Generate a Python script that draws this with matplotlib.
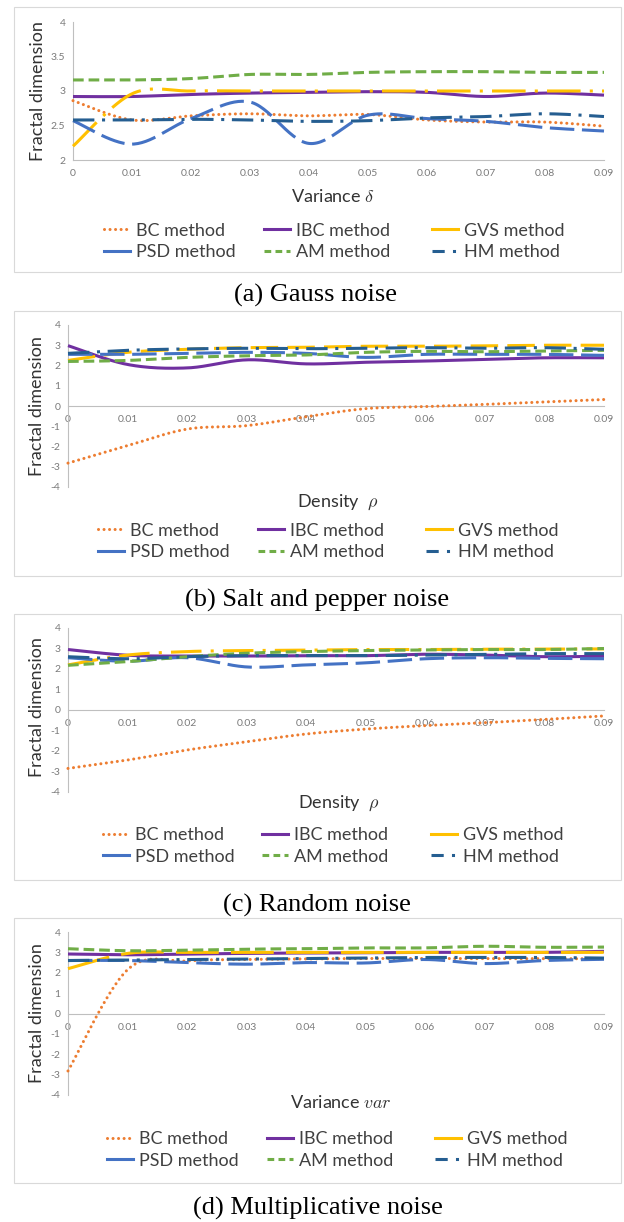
import numpy as np
import matplotlib
matplotlib.use("Agg")
import matplotlib.pyplot as plt
from matplotlib.lines import Line2D
from matplotlib.patches import Rectangle

# ---------------- data ----------------
x_vals = [0, 0.01, 0.02, 0.03, 0.04, 0.05, 0.06, 0.07, 0.08, 0.09]
x_tick_labels = ["0", "0.01", "0.02", "0.03", "0.04", "0.05", "0.06", "0.07", "0.08", "0.09"]
method_names = ["BC method", "IBC method", "GVS method", "PSD method", "AM method", "HM method"]

# (a) Gauss noise
gauss_bc = [2.86, 2.58, 2.64, 2.67, 2.64, 2.66, 2.58, 2.55, 2.55, 2.49]
gauss_ibc = [2.92, 2.92, 2.95, 2.97, 2.98, 2.99, 2.98, 2.92, 2.97, 2.94]
gauss_gvs = [2.20, 2.96, 3.00, 3.00, 3.00, 3.00, 3.00, 3.00, 3.00, 3.00]
gauss_psd = [2.57, 2.23, 2.60, 2.84, 2.24, 2.65, 2.60, 2.56, 2.47, 2.42]
gauss_am = [3.16, 3.16, 3.18, 3.24, 3.24, 3.27, 3.28, 3.28, 3.27, 3.27]
gauss_hm = [2.58, 2.58, 2.59, 2.58, 2.56, 2.57, 2.61, 2.63, 2.67, 2.63]

# (b) Salt and pepper noise
sp_bc = [-2.82, -1.96, -1.14, -0.97, -0.53, -0.13, -0.03, 0.08, 0.20, 0.32]
sp_ibc = [2.98, 2.05, 1.88, 2.28, 2.08, 2.16, 2.22, 2.30, 2.38, 2.38]
sp_gvs = [2.25, 2.65, 2.80, 2.88, 2.90, 2.95, 2.95, 2.97, 3.00, 3.00]
sp_psd = [2.55, 2.55, 2.60, 2.65, 2.60, 2.40, 2.55, 2.55, 2.55, 2.50]
sp_am = [2.20, 2.25, 2.40, 2.48, 2.52, 2.65, 2.70, 2.68, 2.72, 2.75]
sp_hm = [2.60, 2.75, 2.82, 2.85, 2.83, 2.85, 2.88, 2.85, 2.88, 2.80]

# (c) Random noise
rn_bc = [-2.85, -2.44, -1.95, -1.55, -1.17, -0.93, -0.76, -0.62, -0.46, -0.29]
rn_ibc = [2.95, 2.67, 2.63, 2.63, 2.65, 2.65, 2.72, 2.68, 2.60, 2.62]
rn_gvs = [2.20, 2.68, 2.85, 2.90, 2.92, 2.95, 2.95, 2.97, 2.97, 2.98]
rn_psd = [2.55, 2.38, 2.55, 2.10, 2.20, 2.30, 2.50, 2.55, 2.52, 2.50]
rn_am = [2.18, 2.36, 2.60, 2.77, 2.85, 2.90, 2.93, 2.95, 2.95, 3.00]
rn_hm = [2.60, 2.50, 2.60, 2.65, 2.65, 2.65, 2.68, 2.72, 2.75, 2.75]

# (d) Multiplicative noise
mu_bc = [-2.82, 2.15, 2.58, 2.65, 2.68, 2.70, 2.70, 2.70, 2.70, 2.68]
mu_ibc = [2.92, 2.88, 2.92, 2.95, 2.97, 2.98, 3.00, 3.00, 3.00, 3.05]
mu_gvs = [2.20, 2.95, 3.00, 3.00, 3.00, 3.00, 3.00, 3.00, 3.00, 3.00]
mu_psd = [2.60, 2.60, 2.50, 2.42, 2.50, 2.48, 2.65, 2.45, 2.60, 2.66]
mu_am = [3.18, 3.08, 3.11, 3.16, 3.18, 3.22, 3.22, 3.30, 3.25, 3.26]
mu_hm = [2.60, 2.62, 2.65, 2.67, 2.70, 2.72, 2.75, 2.75, 2.75, 2.72]

captions = ["(a) Gauss noise", "(b) Salt and pepper noise", "(c) Random noise", "(d) Multiplicative noise"]
x_titles = ["Variance $\\delta$", "Density  $\\rho$", "Density  $\\rho$", "Variance $var$"]
y_title = "Fractal dimension"

# ---------------- style ----------------
plt.rcParams["font.family"] = ["Lato", "DejaVu Sans"]
plt.rcParams["mathtext.fontset"] = "cm"

W, H = 624, 1222
fig = plt.figure(figsize=(W / 100, H / 100), dpi=100)

colors = ["#ED7D31", "#7030A0", "#FFC000", "#4472C4", "#70AD47", "#255E91"]
LW = 2.2
base_ls = [(0, (0.01, 1.8)), "-", None, (0, (8, 2.5)), (0, (3.5, 1.6)), (0, (7, 2.5, 1, 2.5))]
gvs_ls = [(0, (11, 3, 1, 3)), (0, (9, 3)), (0, (10, 3, 1, 3)), (0, (14, 4))]
legend_ls = [(0, (0.01, 1.8)), "-", "-", "-", (0, (2.2, 1.4)), (0, (4, 2.7, 1, 2.7))]


def smooth(xv, yv, n=30):
    xv = np.asarray(xv, float)
    yv = np.asarray(yv, float)
    m = len(xv)
    t = np.linspace(0, 1, n, endpoint=False)
    xs, ys = [], []
    for i in range(m - 1):
        i0, i3 = max(i - 1, 0), min(i + 2, m - 1)
        p0 = np.array([xv[i0], yv[i0]])
        p1 = np.array([xv[i], yv[i]])
        p2 = np.array([xv[i + 1], yv[i + 1]])
        p3 = np.array([xv[i3], yv[i3]])
        c1 = p1 + (p2 - p0) / 6.0
        c2 = p2 - (p3 - p1) / 6.0
        b = ((1 - t) ** 3)[:, None] * p1 + (3 * (1 - t) ** 2 * t)[:, None] * c1 \
            + (3 * (1 - t) * t ** 2)[:, None] * c2 + (t ** 3)[:, None] * p2
        xs.extend(b[:, 0])
        ys.extend(b[:, 1])
    xs.append(xv[-1])
    ys.append(yv[-1])
    return np.array(xs), np.array(ys)


panels = [
    dict(series=[gauss_bc, gauss_ibc, gauss_gvs, gauss_psd, gauss_am, gauss_hm],
         ax_px=(73, 22, 604, 160), ylim=(2, 4), yticks=[2, 2.5, 3, 3.5, 4],
         yticklabels=["2", "2.5", "3", "3.5", "4"], zero=False,
         xt_pos=(333, 197), yt_pos=(38, 91), leg_x=[104, 264, 432], leg_y=241.5,
         box=(14, 7, 621, 272), cap_pos=(316, 295)),
    dict(series=[sp_bc, sp_ibc, sp_gvs, sp_psd, sp_am, sp_hm],
         ax_px=(68, 325, 604, 487), ylim=(-4, 4), yticks=list(range(-4, 5)),
         yticklabels=[str(v) for v in range(-4, 5)], zero=True,
         xt_pos=(338, 502), yt_pos=(37, 406), leg_x=[98, 258, 426], leg_y=541.5,
         box=(14, 311, 621, 576), cap_pos=(317, 600)),
    dict(series=[rn_bc, rn_ibc, rn_gvs, rn_psd, rn_am, rn_hm],
         ax_px=(68, 628, 604, 792), ylim=(-4, 4), yticks=list(range(-4, 5)),
         yticklabels=[str(v) for v in range(-4, 5)], zero=True,
         xt_pos=(339, 803), yt_pos=(37, 707), leg_x=[103, 262, 431], leg_y=846,
         box=(14, 614, 621, 880), cap_pos=(317, 905)),
    dict(series=[mu_bc, mu_ibc, mu_gvs, mu_psd, mu_am, mu_hm],
         ax_px=(68, 932, 604, 1095), ylim=(-4, 4), yticks=list(range(-4, 5)),
         yticklabels=[str(v) for v in range(-4, 5)], zero=True,
         xt_pos=(341, 1103), yt_pos=(37, 1013), leg_x=[107, 267, 435], leg_y=1150,
         box=(14, 918, 621, 1183), cap_pos=(318, 1208)),
]

for k, p in enumerate(panels):
    l, t, r, b = p["ax_px"]
    ax = fig.add_axes([l / W, 1 - b / H, (r - l) / W, (b - t) / H])
    ax.set_xlim(0, 0.09)
    ax.set_ylim(*p["ylim"])
    ax.patch.set_alpha(0)
    for s in ["top", "right"]:
        ax.spines[s].set_visible(False)
    for s in ["left", "bottom"]:
        ax.spines[s].set_color("#bfbfbf")
        ax.spines[s].set_linewidth(0.8)
    if p["zero"]:
        ax.spines["bottom"].set_position(("data", 0))
    ax.set_xticks(x_vals)
    ax.set_xticklabels(x_tick_labels)
    ax.set_yticks(p["yticks"])
    ax.set_yticklabels(p["yticklabels"])
    ax.tick_params(axis="x", length=0, labelsize=7.5, colors="#7a7a7a", pad=6.5)
    ax.tick_params(axis="y", length=0, labelsize=7.5, colors="#7a7a7a", pad=5.5)

    for i, ys in enumerate(p["series"]):
        ls = gvs_ls[k] if i == 2 else base_ls[i]
        sx, sy = smooth(x_vals, ys)
        ax.plot(sx, sy, color=colors[i], lw=LW, linestyle=ls,
                dash_capstyle="round" if i == 0 else "butt", solid_capstyle="butt",
                zorder=3 + i, clip_on=False)

    # axis titles
    fig.text(p["xt_pos"][0] / W, 1 - p["xt_pos"][1] / H, x_titles[k], ha="center", va="center",
             fontsize=13, color="#333333")
    fig.text(p["yt_pos"][0] / W, 1 - p["yt_pos"][1] / H, y_title, ha="center", va="center",
             rotation=90, fontsize=13, color="#333333")

    # legend, three columns of two rows
    for c in range(3):
        handles = []
        for idx in (c, c + 3):
            handles.append(Line2D([0], [0], color=colors[idx], lw=LW, linestyle=legend_ls[idx],
                                  dash_capstyle="round" if idx == 0 else "butt"))
        labels = [method_names[c], method_names[c + 3]]
        fig.legend(handles, labels, loc="center left",
                   bbox_to_anchor=(p["leg_x"][c] / W, 1 - p["leg_y"] / H),
                   frameon=False, fontsize=13, handlelength=1.45, handletextpad=0.3,
                   borderpad=0, borderaxespad=0, labelspacing=0.3, labelcolor="#404040")

    # panel frame
    bx0, by0, bx1, by1 = p["box"]
    fig.patches.append(Rectangle((bx0 / W, 1 - by1 / H), (bx1 - bx0) / W, (by1 - by0) / H,
                                 transform=fig.transFigure, fill=False, edgecolor="#d9d9d9",
                                 lw=0.8, zorder=0))
    # caption
    fig.text(p["cap_pos"][0] / W, 1 - p["cap_pos"][1] / H, captions[k], ha="center", va="center",
             fontsize=19, family=["Liberation Serif", "DejaVu Serif"], color="black")

fig.savefig("out.png", dpi=100)
